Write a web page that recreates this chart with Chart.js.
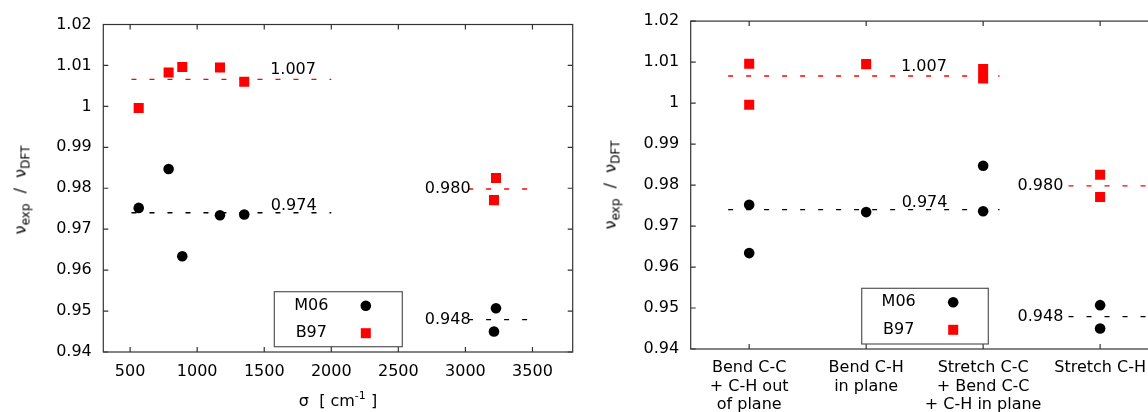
<!DOCTYPE html>
<html><head><meta charset="utf-8">
<script src="https://cdn.jsdelivr.net/npm/chart.js@4.4.1/dist/chart.umd.min.js"></script>
<style>
html,body{margin:0;padding:0;width:1148px;height:412px;overflow:hidden;background:#fff;}
.wrap{position:absolute;top:0;height:412px;}
.title{position:absolute;font-family:'DejaVu Sans';font-size:16px;color:#000;white-space:nowrap;}
.ytitle{transform:translate(-50%,-50%) rotate(-90deg);}
.xtitle{transform:translate(-50%,-50%);}
sub{font-size:12px;vertical-align:-4px;line-height:0;}
sup{font-size:11px;vertical-align:7px;line-height:0;}
</style>
</head><body>
<div class="wrap" style="left:0;width:590px;"><canvas id="c1" width="590" height="412"></canvas></div>
<div class="wrap" style="left:590px;width:600px;"><canvas id="c2" width="600" height="412"></canvas></div>
<div class="title ytitle" style="left:20px;top:190px;">ν<sub>exp</sub>&nbsp;&nbsp;/&nbsp;&nbsp;ν<sub>DFT</sub></div>
<div class="title ytitle" style="left:610px;top:185px;">ν<sub>exp</sub>&nbsp;&nbsp;/&nbsp;&nbsp;ν<sub>DFT</sub></div>
<div class="title xtitle" style="left:338px;top:400px;">σ&nbsp;&nbsp;[ cm<sup>-1</sup> ]</div>
<script>
// ---- data ----
const sigma   = [564, 787, 889, 1170, 1351, 3228, 3213];       // cm^-1
const modeIdx = [0, 2, 0, 1, 2, 3, 3];                          // vibrational mode category
const m06     = [0.9752, 0.9847, 0.9634, 0.9734, 0.9736, 0.9507, 0.9450];
const b97     = [0.9996, 1.0083, 1.0096, 1.0095, 1.0060, 0.9825, 0.9771];
const modeLabels = [
  ["Bend C-C", "+ C-H out", "of plane"],
  ["Bend C-H", "in plane"],
  ["Stretch C-C", "+ Bend C-C", "+ C-H in plane"],
  ["Stretch C-H"]
];
const sigmaTicks = [500, 1000, 1500, 2000, 2500, 3000, 3500];
const modeTicks  = [0, 1, 2, 3];
const ratioTicks = [0.94, 0.95, 0.96, 0.97, 0.98, 0.99, 1.00, 1.01, 1.02];
// scaling factors: [B97, M06]
const factorsLow   = [1.0066, 0.9740];
const factorsHigh  = [0.9798, 0.9479];
const factorLabelsLow  = ["1.007", "0.974"];
const factorLabelsHigh = ["0.980", "0.948"];
const sigmaRangeLow  = [510, 2000];
const sigmaRangeHigh = [3020, 3465];
const modeRangeLow   = [-0.18, 2.14];
const modeRangeHigh  = [2.73, 3.5];

Chart.defaults.font.family = "'DejaVu Sans'";
Chart.defaults.font.size = 16;
Chart.defaults.color = '#000';

const FONT = "16px 'DejaVu Sans'";

const framePlugin = {
  id: 'frame',
  afterDatasetsDraw(chart, args, opts) {
    const {ctx, chartArea: a, scales: {x, y}} = chart;
    ctx.save();
    ctx.strokeStyle = '#333';
    ctx.lineWidth = 1.2;
    ctx.strokeRect(a.left, a.top, a.right - a.left, a.bottom - a.top);
    ctx.beginPath();
    const T = 5;
    x.ticks.forEach(t => {
      const px = x.getPixelForValue(t.value);
      ctx.moveTo(px, a.bottom); ctx.lineTo(px, a.bottom - T);
      ctx.moveTo(px, a.top); ctx.lineTo(px, a.top + T);
    });
    y.ticks.forEach(t => {
      const py = y.getPixelForValue(t.value);
      ctx.moveTo(a.left, py); ctx.lineTo(a.left + T, py);
      ctx.moveTo(a.right, py); ctx.lineTo(a.right - T, py);
    });
    ctx.stroke();
    // factor labels
    ctx.font = FONT;
    ctx.fillStyle = '#000';
    ctx.textBaseline = 'middle';
    (opts.labels || []).forEach(l => {
      ctx.textAlign = l.align;
      ctx.fillText(l.text, x.getPixelForValue(l.x), y.getPixelForValue(l.y));
    });
    // legend box
    const L = opts.legend;
    const bx = a.left + L.dx, by = a.bottom - L.dy;
    ctx.fillStyle = '#fff';
    ctx.fillRect(bx, by, L.w, L.h);
    ctx.strokeStyle = '#555';
    ctx.lineWidth = 1.2;
    ctx.strokeRect(bx, by, L.w, L.h);
    ctx.fillStyle = '#000';
    ctx.textAlign = 'center';
    ctx.fillText('M06', bx + 37, by + 14);
    ctx.fillText('B97', bx + 37, by + 41.5);
    ctx.beginPath();
    ctx.arc(bx + 91.5, by + 14, 5.3, 0, Math.PI * 2);
    ctx.fill();
    ctx.fillStyle = '#ff0000';
    ctx.fillRect(bx + 91.5 - 5, by + 41.5 - 5, 10, 10);
    ctx.restore();
  }
};

function ratioAxis(width) {
  return {
    type: 'linear', min: 0.94, max: 1.02,
    afterBuildTicks: s => { s.ticks = ratioTicks.map(v => ({value: v})); },
    afterFit: s => { s.width = width; },
    grid: {display: false, drawTicks: false},
    border: {display: false},
    ticks: {padding: 11.5, autoSkip: false, callback: v => String(+(+v).toFixed(2))}
  };
}

function makeDatasets(xs, rangeLow, rangeHigh) {
  const lines = [];
  const colors = ['#ff0000', '#000000'];
  [0, 1].forEach(k => {
    lines.push({data: rangeLow.map(xv => ({x: xv, y: factorsLow[k]}))});
    lines.push({data: rangeHigh.map(xv => ({x: xv, y: factorsHigh[k]}))});
  });
  const lineSets = lines.map((d, i) => ({
    label: 'fit' + i, data: d.data, showLine: true, pointRadius: 0,
    borderColor: colors[Math.floor(i / 2)], borderWidth: 1.4, borderDash: [5, 13], fill: false
  }));
  return [
    {label: 'M06', data: xs.map((xv, i) => ({x: xv, y: m06[i]})), pointStyle: 'circle',
     pointRadius: 5.3, backgroundColor: '#000', borderWidth: 0},
    {label: 'B97', data: xs.map((xv, i) => ({x: xv, y: b97[i]})), pointStyle: 'rect',
     pointRadius: 7.1, backgroundColor: '#ff0000', borderWidth: 0},
    ...lineSets
  ];
}

new Chart(document.getElementById('c1'), {
  type: 'scatter',
  data: {datasets: makeDatasets(sigma, sigmaRangeLow, sigmaRangeHigh)},
  options: {
    responsive: false, animation: false,
    layout: {padding: {top: 24.5, right: 17.3, left: 0, bottom: 0}},
    plugins: {
      legend: {display: false}, tooltip: {enabled: false},
      frame: {
        labels: [
          {text: factorLabelsLow[0], x: 1715, y: 1.0089, align: 'center'},
          {text: factorLabelsLow[1], x: 1720, y: 0.9757, align: 'center'},
          {text: factorLabelsHigh[0], x: 3039, y: 0.9799, align: 'right'},
          {text: factorLabelsHigh[1], x: 3039, y: 0.9479, align: 'right'}
        ],
        legend: {dx: 171, dy: 60.3, w: 128, h: 55}
      }
    },
    scales: {
      x: {
        type: 'linear', min: 300, max: 3800,
        afterBuildTicks: s => { s.ticks = sigmaTicks.map(v => ({value: v})); },
        afterFit: s => { s.height = 60; },
        grid: {display: false, drawTicks: false},
        border: {display: false},
        ticks: {padding: 10, autoSkip: false, maxRotation: 0, callback: v => String(v)}
      },
      y: ratioAxis(103.3)
    }
  },
  plugins: [framePlugin]
});

new Chart(document.getElementById('c2'), {
  type: 'scatter',
  data: {datasets: makeDatasets(modeIdx, modeRangeLow, modeRangeHigh)},
  options: {
    responsive: false, animation: false,
    layout: {padding: {top: 19.3, right: 31.4, left: 0, bottom: 0}},
    plugins: {
      legend: {display: false}, tooltip: {enabled: false},
      frame: {
        labels: [
          {text: factorLabelsLow[0], x: 1.494, y: 1.0088, align: 'center'},
          {text: factorLabelsLow[1], x: 1.499, y: 0.9757, align: 'center'},
          {text: factorLabelsHigh[0], x: 2.686, y: 0.9799, align: 'right'},
          {text: factorLabelsHigh[1], x: 2.686, y: 0.9478, align: 'right'}
        ],
        legend: {dx: 171, dy: 60.7, w: 126.6, h: 55.7}
      }
    },
    scales: {
      x: {
        type: 'linear', min: -0.5, max: 3.5,
        afterBuildTicks: s => { s.ticks = modeTicks.map(v => ({value: v})); },
        afterFit: s => { s.height = 63; },
        grid: {display: false, drawTicks: false},
        border: {display: false},
        ticks: {padding: 9.5, autoSkip: false, maxRotation: 0, font: {lineHeight: 1.17},
                callback: v => modeLabels[Math.round(v)]}
      },
      y: ratioAxis(100.7)
    }
  },
  plugins: [framePlugin]
});
</script>
</body></html>
